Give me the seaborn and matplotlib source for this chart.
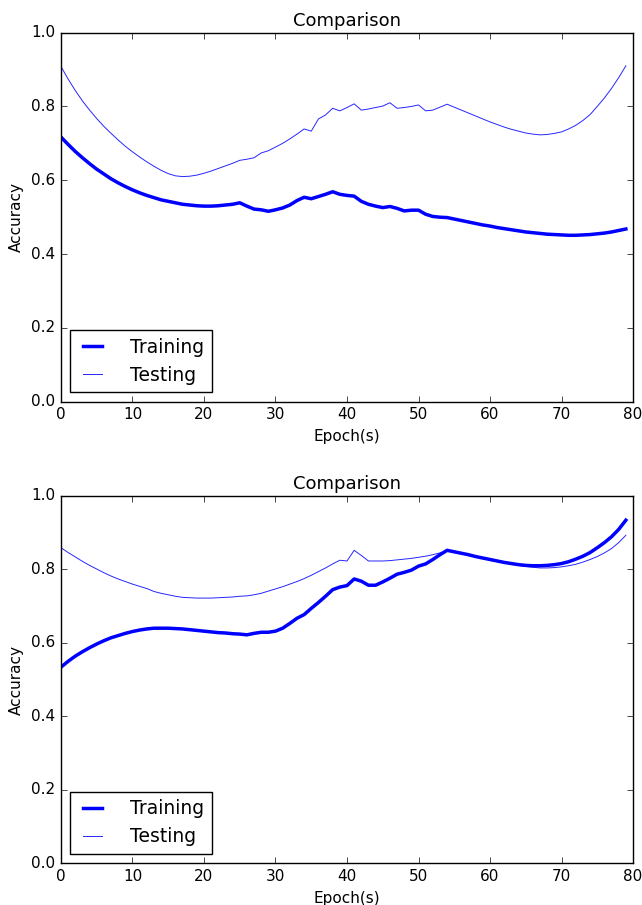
import numpy as np
import pandas as pd
import seaborn as sns
import matplotlib
matplotlib.use("Agg")
import matplotlib.pyplot as plt

# epochs 0..79, accuracy
epochs = list(range(80))

train_top = [
    0.717, 0.697, 0.678, 0.661, 0.645, 0.630, 0.617, 0.604, 0.593, 0.583,
    0.574, 0.566, 0.559, 0.553, 0.547, 0.543, 0.539, 0.535, 0.533, 0.531,
    0.530, 0.530, 0.531, 0.533, 0.535, 0.539, 0.530, 0.522, 0.520, 0.516,
    0.520, 0.525, 0.533, 0.545, 0.554, 0.550, 0.556, 0.562, 0.569, 0.562,
    0.559, 0.557, 0.543, 0.535, 0.530, 0.526, 0.529, 0.524, 0.517, 0.519,
    0.519, 0.508, 0.502, 0.500, 0.499, 0.495, 0.491, 0.487, 0.483, 0.479,
    0.476, 0.472, 0.469, 0.466, 0.463, 0.460, 0.458, 0.456, 0.454, 0.453,
    0.452, 0.451, 0.451, 0.452, 0.453, 0.455, 0.457, 0.460, 0.464, 0.468,
]
test_top = [
    0.908, 0.874, 0.843, 0.815, 0.790, 0.767, 0.746, 0.727, 0.709, 0.692,
    0.677, 0.663, 0.650, 0.638, 0.627, 0.618, 0.612, 0.610, 0.611, 0.614,
    0.619, 0.625, 0.632, 0.639, 0.646, 0.654, 0.657, 0.661, 0.674, 0.680,
    0.690, 0.700, 0.712, 0.725, 0.739, 0.733, 0.766, 0.777, 0.795, 0.788,
    0.797, 0.807, 0.790, 0.793, 0.797, 0.801, 0.810, 0.795, 0.797, 0.800,
    0.804, 0.788, 0.790, 0.798, 0.806, 0.798, 0.790, 0.782, 0.774, 0.766,
    0.758, 0.751, 0.744, 0.738, 0.733, 0.728, 0.725, 0.723, 0.724, 0.727,
    0.731, 0.739, 0.749, 0.762, 0.778, 0.800, 0.823, 0.849, 0.878, 0.910,
]
train_bot = [
    0.534, 0.550, 0.564, 0.576, 0.587, 0.597, 0.606, 0.614, 0.620, 0.626,
    0.631, 0.635, 0.638, 0.640, 0.640, 0.640, 0.639, 0.638, 0.636, 0.634,
    0.632, 0.630, 0.628, 0.627, 0.625, 0.624, 0.622, 0.626, 0.629, 0.629,
    0.632, 0.640, 0.653, 0.667, 0.677, 0.694, 0.710, 0.727, 0.745, 0.752,
    0.756, 0.774, 0.768, 0.757, 0.757, 0.766, 0.776, 0.787, 0.792, 0.798,
    0.809, 0.815, 0.827, 0.840, 0.852, 0.848, 0.844, 0.840, 0.835, 0.831,
    0.827, 0.823, 0.819, 0.816, 0.813, 0.811, 0.810, 0.810, 0.811, 0.813,
    0.816, 0.821, 0.828, 0.836, 0.846, 0.859, 0.873, 0.889, 0.909, 0.934,
]
test_bot = [
    0.859, 0.846, 0.834, 0.822, 0.811, 0.801, 0.791, 0.782, 0.774, 0.767,
    0.760, 0.754, 0.748, 0.740, 0.735, 0.731, 0.727, 0.724, 0.723, 0.722,
    0.722, 0.722, 0.723, 0.724, 0.725, 0.727, 0.728, 0.731, 0.735, 0.741,
    0.747, 0.753, 0.760, 0.767, 0.775, 0.784, 0.794, 0.804, 0.815, 0.825,
    0.823, 0.852, 0.838, 0.823, 0.823, 0.823, 0.824, 0.826, 0.828, 0.830,
    0.833, 0.836, 0.840, 0.845, 0.850, 0.846, 0.842, 0.838, 0.834, 0.830,
    0.826, 0.822, 0.818, 0.814, 0.811, 0.808, 0.806, 0.804, 0.804, 0.805,
    0.807, 0.810, 0.814, 0.820, 0.827, 0.835, 0.845, 0.857, 0.873, 0.893,
]

plt.style.use("classic")
plt.rcParams["figure.facecolor"] = "white"
plt.rcParams["savefig.facecolor"] = "white"
plt.rcParams["font.family"] = ["DejaVu Sans"]

fig = plt.figure(figsize=(6.42, 9.05), dpi=100)
ax1 = fig.add_axes([0.095, 0.556, 0.891, 0.408])
ax2 = fig.add_axes([0.095, 0.046, 0.891, 0.406])


def draw(ax, train, test):
    sns.lineplot(x=epochs, y=train, ax=ax, color="blue", linewidth=2.5,
                 label="Training")
    sns.lineplot(x=epochs, y=test, ax=ax, color="blue", linewidth=0.7,
                 alpha=0.85, label="Testing")
    ax.set_xlim(0, 80)
    ax.set_ylim(0, 1.0)
    ax.set_title("Comparison", fontsize=13)
    ax.set_xlabel("Epoch(s)", fontsize=11)
    ax.set_ylabel("Accuracy", fontsize=11)
    ax.tick_params(labelsize=11)
    ax.legend(loc="lower left", fontsize=13.5, handlelength=1.6,
              handletextpad=1.2)


draw(ax1, train_top, test_top)
draw(ax2, train_bot, test_bot)

plt.savefig("out.png", dpi=100)
plt.close()
